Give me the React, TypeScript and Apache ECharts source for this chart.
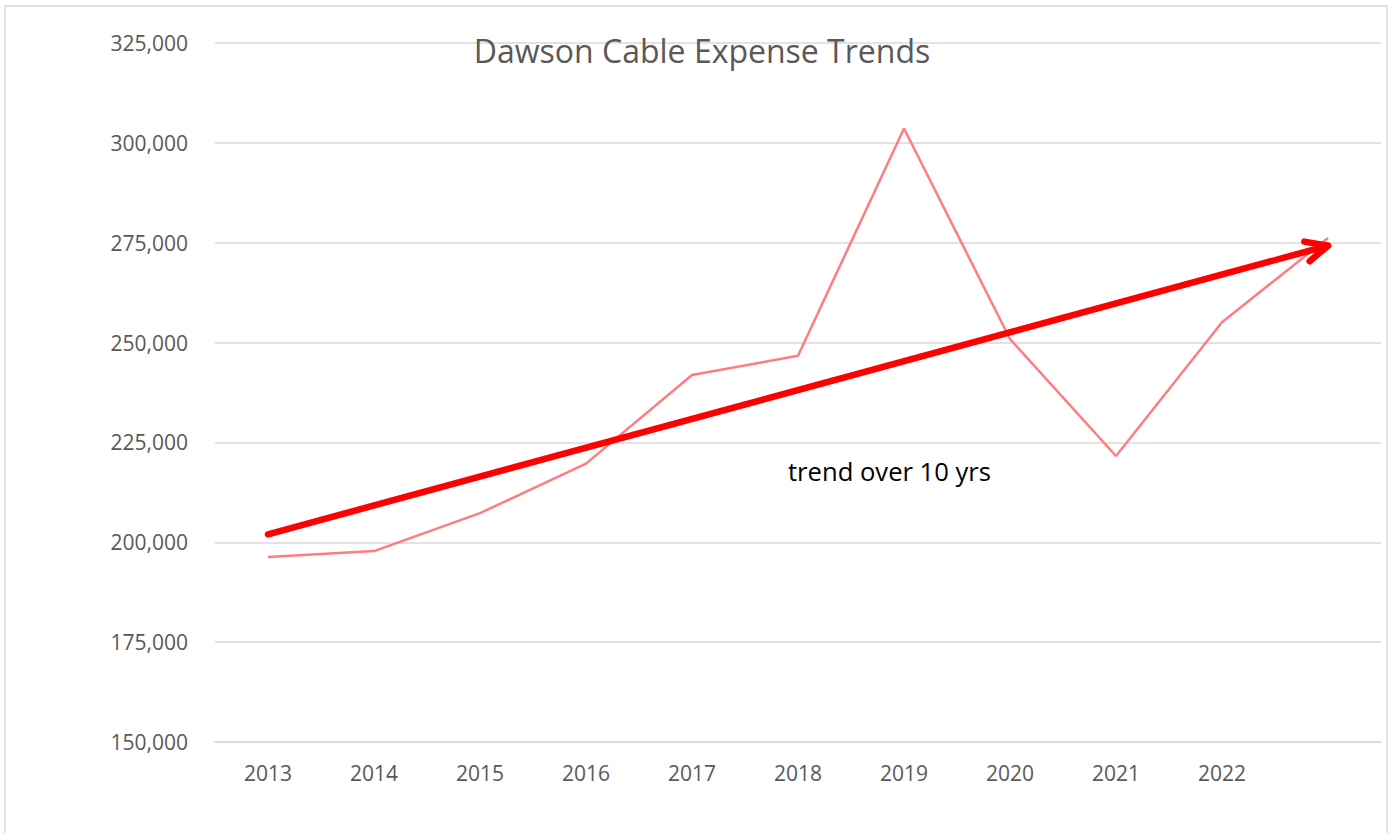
import React, { useEffect, useRef } from "react";
import * as echarts from "echarts";

const years = ["2013", "2014", "2015", "2016", "2017", "2018", "2019", "2020", "2021", "2022", ""];
const expense = [196300, 197800, 207300, 219700, 241900, 246700, 303600, 250900, 221600, 255100, 276200];
const trendStartIndex = 0;
const trendEndIndex = 10;
const trendStart = 202000;
const trendEnd = 274250;
const titleText = "Dawson Cable Expense Trends";
const noteText = "trend over 10 yrs";

const FONT = "'Open Sans', 'Noto Sans', sans-serif";

export default function App() {
  const ref = useRef<HTMLDivElement>(null);

  useEffect(() => {
    if (!ref.current) return;
    const chart = echarts.init(ref.current, null, { renderer: "svg" });
    const option: any = {
      animation: false,
      backgroundColor: "#ffffff",
      textStyle: { fontFamily: FONT },
      title: {
        text: titleText,
        left: 697,
        top: 29,
        textAlign: "center",
        textStyle: { fontFamily: FONT, fontSize: 32, fontWeight: "normal", color: "#595959" },
      },
      grid: { left: 215, right: 17, top: 43, bottom: 91, containLabel: false },
      xAxis: {
        type: "category",
        data: years,
        boundaryGap: true,
        axisLine: { show: true, lineStyle: { color: "#d9d9d9", width: 1.5 } },
        axisTick: { show: false },
        axisLabel: { color: "#595959", fontSize: 21, fontFamily: FONT, margin: 20, interval: 0 },
      },
      yAxis: {
        type: "value",
        min: 150000,
        max: 325000,
        interval: 25000,
        axisLine: { show: false },
        axisTick: { show: false },
        splitLine: { lineStyle: { color: "#d9d9d9", width: 1.5 } },
        axisLabel: {
          color: "#595959",
          fontSize: 21,
          fontFamily: FONT,
          margin: 27,
          formatter: (v: number) => v.toLocaleString("en-US"),
        },
      },
      graphic: [
        {
          type: "rect",
          shape: { x: 5, y: 6, width: 1382, height: 900 },
          style: { fill: "none", stroke: "#d9d9d9", lineWidth: 1.5 },
          silent: true,
          z: -10,
        },
        {
          type: "text",
          left: 788,
          top: 458,
          style: { text: noteText, fontFamily: FONT, fontSize: 25.6, fill: "#000000" },
        },
      ],
      series: [
        {
          type: "line",
          data: expense,
          symbol: "none",
          lineStyle: { color: "#ff7c80", width: 2.5 },
          z: 2,
        },
        {
          type: "custom",
          coordinateSystem: "cartesian2d",
          encode: { x: [0, 2], y: [1, 3] },
          data: [[trendStartIndex, trendStart, trendEndIndex, trendEnd]],
          z: 3,
          renderItem: (params: any, api: any) => {
            const p1 = api.coord([api.value(0), api.value(1)]);
            const p2 = api.coord([api.value(2), api.value(3)]);
            const ang = Math.atan2(p2[1] - p1[1], p2[0] - p1[0]);
            const L = 24;
            const half = (25 * Math.PI) / 180;
            const a1 = ang + Math.PI - half;
            const a2 = ang + Math.PI + half;
            const left = [p2[0] + L * Math.cos(a1), p2[1] + L * Math.sin(a1)];
            const right = [p2[0] + L * Math.cos(a2), p2[1] + L * Math.sin(a2)];
            const style = { stroke: "#ff0000", lineWidth: 6.5, lineCap: "round", lineJoin: "round", fill: "none" };
            return {
              type: "group",
              children: [
                { type: "line", shape: { x1: p1[0], y1: p1[1], x2: p2[0], y2: p2[1] }, style },
                { type: "polyline", shape: { points: [left, p2, right] }, style },
              ],
            };
          },
        },
      ],
    };
    chart.setOption(option);
    return () => chart.dispose();
  }, []);

  return (
    <div
      ref={ref}
      style={{ position: "fixed", left: 0, top: 0, width: 1398, height: 833, background: "#fff" }}
    />
  );
}
